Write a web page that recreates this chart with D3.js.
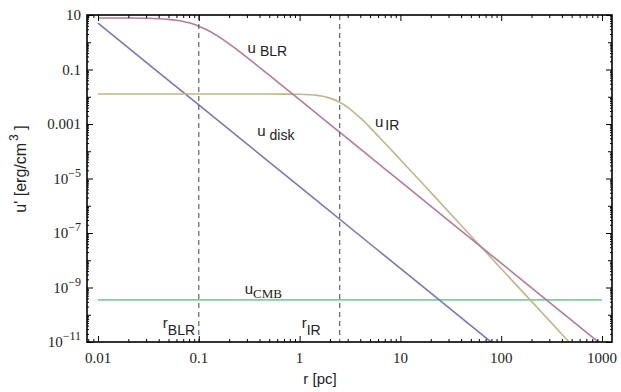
<!DOCTYPE html>
<html>
<head>
<meta charset="utf-8">
<script src="https://cdn.jsdelivr.net/npm/d3@7"></script>
<style>
  body { margin: 0; background: #fff; }
</style>
</head>
<body>
<div id="chart"></div>
<script>
// radius grid in pc
const rGrid = [0.01, 0.015, 0.02, 0.03, 0.04, 0.05, 0.06, 0.07, 0.08, 0.1, 0.12, 0.15, 0.2, 0.3, 0.5, 0.7,
  1, 1.5, 2, 2.5, 3, 4, 5, 7, 10, 20, 50, 100, 200, 500, 1000]
const uBLR = [7.79, 7.77, 7.74, 7.59, 7.33, 6.93, 6.41, 5.81, 5.16, 3.9, 2.86, 1.78, 0.867, 0.279, 0.0619, 0.0227,
  7.8e-3, 2.3e-3, 9.7e-4, 5.0e-4, 2.9e-4, 1.22e-4, 6.2e-5, 2.27e-5, 7.8e-6, 9.7e-7, 6.2e-8, 7.8e-9, 9.7e-10, 6.2e-11, 7.8e-12]
const uIR = [0.0126, 0.0126, 0.0126, 0.0126, 0.0126, 0.0126, 0.0126, 0.0126, 0.0126, 0.0126, 0.0126, 0.0126, 0.0126, 0.0126, 0.01258, 0.01252,
  0.0123, 0.0112, 0.0089, 0.0063, 0.0041, 1.67e-3, 7.4e-4, 2.0e-4, 4.9e-5, 3.1e-6, 7.9e-8, 4.9e-9, 3.1e-10, 7.9e-12, 4.9e-13]
const rDisk = [0.01, 0.1, 1, 10, 100]
const uDisk = [5.0, 5.0e-3, 5.0e-6, 5.0e-9, 5.0e-12]
const rCMB = [0.01, 1000]
const uCMB = [3.5e-10, 3.5e-10]

const rBLR = 0.1
const rIR = 2.5

const xTicks = [0.01, 0.1, 1, 10, 100, 1000]
const xTickLabels = ["0.01", "0.1", "1", "10", "100", "1000"]
const yTicks = [10, 0.1, 1e-3, 1e-5, 1e-7, 1e-9, 1e-11]
const yTickLabels = [["10", ""], ["0.1", ""], ["0.001", ""], ["10", "\u22125"], ["10", "\u22127"], ["10", "\u22129"], ["10", "\u221211"]]

const width = 621
const height = 392
const frame = {left: 87, right: 612, top: 15, bottom: 342}

const svg = d3.select("#chart").append("svg")
  .attr("width", width)
  .attr("height", height)

const xScale = d3.scaleLog().domain([0.01, 1000]).range([98, 602])
const yScale = d3.scaleLog().domain([1e-11, 10]).range([frame.bottom, frame.top])

svg.append("clipPath").attr("id", "plot-clip")
  .append("rect")
  .attr("x", frame.left).attr("y", frame.top)
  .attr("width", frame.right - frame.left).attr("height", frame.bottom - frame.top)

const plot = svg.append("g").attr("clip-path", "url(#plot-clip)")

const line = d3.line()
  .x(d => xScale(d[0]))
  .y(d => yScale(d[1]))
  .curve(d3.curveMonotoneX)

const series = [
  {r: rCMB, u: uCMB, color: "#8cc89e"},
  {r: rDisk, u: uDisk, color: "#7b78b2"},
  {r: rGrid, u: uIR, color: "#bfb78a"},
  {r: rGrid, u: uBLR, color: "#b47b9c"}
]

series.forEach(s => {
  plot.append("path")
    .datum(s.r.map((r, i) => [r, s.u[i]]))
    .attr("fill", "none")
    .attr("stroke", s.color)
    .attr("stroke-width", 1.6)
    .attr("d", line)
})

// r_BLR and r_IR markers
;[rBLR, rIR].forEach(r => {
  svg.append("line")
    .attr("x1", xScale(r)).attr("x2", xScale(r))
    .attr("y1", frame.top).attr("y2", frame.bottom)
    .attr("stroke", "#555")
    .attr("stroke-width", 1.1)
    .attr("stroke-dasharray", "5,4")
})

// minor tick values
const xMinor = []
for (let e = -3; e <= 3; e++) {
  for (let k = 1; k <= 9; k++) {
    const v = k * Math.pow(10, e)
    if (xScale(v) > frame.left + 1 && xScale(v) < frame.right - 1 && !xTicks.some(t => Math.abs(t - v) / t < 1e-9)) xMinor.push(v)
  }
}
const yMid = []
const yMinor = []
for (let e = -11; e <= 1; e++) {
  const p = Math.pow(10, e)
  if (!yTicks.some(t => Math.abs(t - p) / t < 1e-9)) yMid.push(p)
  for (let k = 2; k <= 9; k++) {
    if (k * p < 10) yMinor.push(k * p)
  }
}

function tickGroup(axis, transform) {
  return svg.append("g").attr("transform", transform).call(axis)
    .call(g => g.select(".domain").remove())
    .call(g => g.selectAll("line").attr("stroke", "#000"))
}

// bottom / top ticks
tickGroup(d3.axisBottom(xScale).tickValues(xTicks).tickSize(-6).tickFormat(""), `translate(0,${frame.bottom})`)
tickGroup(d3.axisBottom(xScale).tickValues(xMinor).tickSize(-3).tickFormat(""), `translate(0,${frame.bottom})`)
tickGroup(d3.axisTop(xScale).tickValues(xTicks).tickSize(-6).tickFormat(""), `translate(0,${frame.top})`)
tickGroup(d3.axisTop(xScale).tickValues(xMinor).tickSize(-3).tickFormat(""), `translate(0,${frame.top})`)
// left / right ticks
tickGroup(d3.axisLeft(yScale).tickValues(yTicks).tickSize(-6).tickFormat(""), `translate(${frame.left},0)`)
tickGroup(d3.axisLeft(yScale).tickValues(yMid).tickSize(-4).tickFormat(""), `translate(${frame.left},0)`)
tickGroup(d3.axisLeft(yScale).tickValues(yMinor).tickSize(-2).tickFormat(""), `translate(${frame.left},0)`)
tickGroup(d3.axisRight(yScale).tickValues(yTicks).tickSize(-6).tickFormat(""), `translate(${frame.right},0)`)
tickGroup(d3.axisRight(yScale).tickValues(yMid).tickSize(-4).tickFormat(""), `translate(${frame.right},0)`)
tickGroup(d3.axisRight(yScale).tickValues(yMinor).tickSize(-2).tickFormat(""), `translate(${frame.right},0)`)

// frame
svg.append("rect")
  .attr("x", frame.left).attr("y", frame.top)
  .attr("width", frame.right - frame.left).attr("height", frame.bottom - frame.top)
  .attr("fill", "none")
  .attr("stroke", "#000")
  .attr("stroke-width", 1.6)

// tick labels
const tickFont = "'Liberation Serif', 'Times New Roman', serif"
svg.append("g").selectAll("text")
  .data(xTicks)
  .enter().append("text")
  .attr("x", d => xScale(d))
  .attr("y", frame.bottom + 21)
  .attr("text-anchor", "middle")
  .attr("font-family", tickFont)
  .attr("font-size", 15)
  .attr("fill", "#222")
  .text((d, i) => xTickLabels[i])

const yLabels = svg.append("g").selectAll("text")
  .data(yTicks)
  .enter().append("text")
  .attr("x", frame.left - 6)
  .attr("y", d => yScale(d) + 5)
  .attr("text-anchor", "end")
  .attr("font-family", tickFont)
  .attr("font-size", 15)
  .attr("fill", "#222")
yLabels.each(function(d, i) {
  const t = d3.select(this)
  const [base, sup] = yTickLabels[i]
  t.append("tspan").text(base)
  if (sup) t.append("tspan").attr("font-size", 12).attr("dy", -7).text(sup)
})

// axis titles
const sans = "'Liberation Sans', Arial, sans-serif"
svg.append("text")
  .attr("x", 320)
  .attr("y", 384)
  .attr("text-anchor", "middle")
  .attr("font-family", sans)
  .attr("font-size", 15)
  .attr("fill", "#222")
  .text("r [pc]")

const yTitle = svg.append("text")
  .attr("transform", "translate(26,169) rotate(-90)")
  .attr("text-anchor", "middle")
  .attr("font-family", sans)
  .attr("font-size", 16)
  .attr("fill", "#222")
yTitle.append("tspan").text("u' [erg/cm")
yTitle.append("tspan").attr("font-size", 12).attr("dx", 2).attr("dy", -8).text("3")
yTitle.append("tspan").attr("dy", 8).text(" ]")

// curve labels
const annotations = [
  {r: 0.305, u: 0.42, main: "u", sub: "BLR", dx: 4, dy: 3, subFont: sans, subSize: 14},
  {r: 0.38, u: 3.6e-4, main: "u", sub: "disk", dx: 4, dy: 4, subFont: sans, subSize: 14},
  {r: 5.6, u: 7.5e-4, main: "u", sub: "IR", dx: 2, dy: 3, subFont: sans, subSize: 14},
  {r: 0.285, u: 5.9e-10, main: "u", sub: "CMB", dx: 0, dy: 4, subFont: tickFont, subSize: 13},
  {r: 0.044, u: 3.3e-11, main: "r", sub: "BLR", dx: 0, dy: 7, subFont: sans, subSize: 14},
  {r: 1.05, u: 3.3e-11, main: "r", sub: "IR", dx: 0, dy: 7, subFont: sans, subSize: 14}
]
annotations.forEach(a => {
  const t = svg.append("text")
    .attr("x", xScale(a.r))
    .attr("y", yScale(a.u))
    .attr("font-family", sans)
    .attr("font-size", 15)
    .attr("fill", "#222")
  t.append("tspan").text(a.main)
  t.append("tspan")
    .attr("dx", a.dx).attr("dy", a.dy)
    .attr("font-family", a.subFont)
    .attr("font-size", a.subSize)
    .text(a.sub)
})
</script>
</body>
</html>
